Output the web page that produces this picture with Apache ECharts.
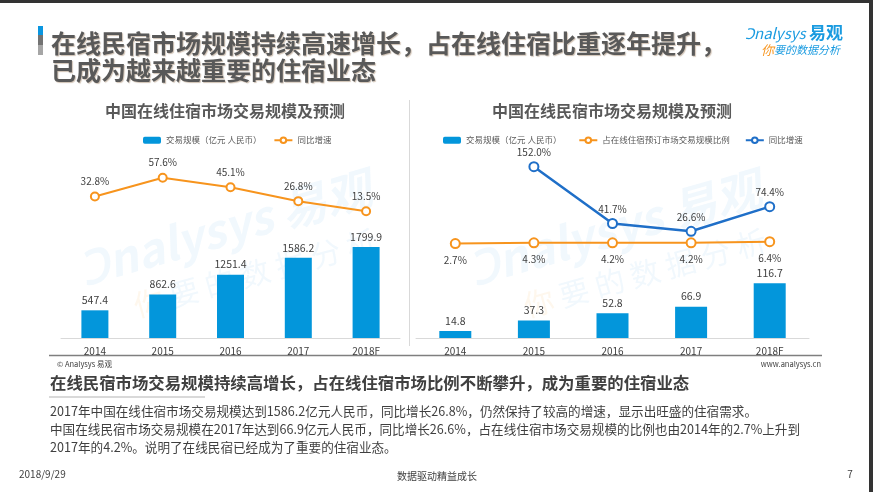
<!DOCTYPE html>
<html><head><meta charset="utf-8">
<script src="https://cdn.jsdelivr.net/npm/echarts@6/dist/echarts.min.js"></script>
<style>html,body{margin:0;padding:0;background:#fff}#c{width:873px;height:492px}</style>
</head><body><div id="c"></div>
<script>
const years = ['2014','2015','2016','2017','2018F'];
const hotelScale = [547.4, 862.6, 1251.4, 1586.2, 1799.9];
const hotelGrowth = [32.8, 57.6, 45.1, 26.8, 13.5];
const homestayScale = [14.8, 37.3, 52.8, 66.9, 116.7];
const homestayShare = [2.7, 4.3, 4.2, 4.2, 6.4];
const homestayGrowth = [null, 152.0, 41.7, 26.6, 74.4];

const FONT = '"Noto Sans CJK SC","Microsoft YaHei",sans-serif';
const BAR = '#0396db', ORANGE = '#f7941d', BLUE = '#1f6fc8';
const TXT = '#404040';
const pct = p => p.value == null ? '' : Number(p.value).toFixed(1) + '%';

function txt(x, y, text, font, fill, align, extra) {
  return {type:'text', x:x, y:y, silent:true,
    style:Object.assign({text:text, font:font, fill:fill, textAlign:align||'left', textVerticalAlign:'middle'}, extra||{})};
}
function wm(cx, cy) {
  return [
    {type:'text', x:cx, y:cy, rotation:0.28, silent:true, z:-1,
     style:{text:'Ↄnalysys 易观', font:'italic bold 46px '+FONT, fill:'rgba(20,140,215,0.06)', textAlign:'center', textVerticalAlign:'middle'}},
    {type:'text', x:cx+30, y:cy+45, rotation:0.27, silent:true, z:-1,
     style:{text:'{o|你} 要 的 数 据 分 析', font:'30px '+FONT, fill:'rgba(20,140,215,0.06)', textAlign:'center', textVerticalAlign:'middle',
       rich:{o:{fill:'rgba(247,148,29,0.08)', font:'30px '+FONT}}}}
  ];
}
const shadow = {textShadowColor:'rgba(120,80,40,0.35)', textShadowOffsetX:1, textShadowOffsetY:1, textShadowBlur:1};

const chart = echarts.init(document.getElementById('c'));
chart.setOption({
  backgroundColor:'#fff',
  animation:false,
  textStyle:{fontFamily:FONT},
  graphic:[
    {type:'rect', shape:{x:0,y:0,width:873,height:3}, style:{fill:'#333'}, silent:true},
    {type:'rect', shape:{x:869,y:0,width:4,height:492}, style:{fill:'#333'}, silent:true},
    {type:'rect', shape:{x:38,y:26,width:5,height:9}, style:{fill:'#0a96e0'}, silent:true},
    {type:'rect', shape:{x:38,y:35,width:5,height:10}, style:{fill:'#737373'}, silent:true},
    {type:'rect', shape:{x:38,y:45,width:5,height:10}, style:{fill:'#a6a6a6'}, silent:true},
    txt(51, 43, '在线民宿市场规模持续高速增长，占在线住宿比重逐年提升，', 'bold 25px '+FONT, '#595959', 'left', shadow),
    txt(51, 70, '已成为越来越重要的住宿业态', 'bold 25px '+FONT, '#595959', 'left', shadow),
    txt(745, 33, '{a|Ↄnalysys} {b|易观}', '15px '+FONT, '#1a9be0', 'left', {rich:{a:{font:'italic 15px '+FONT, fill:'#1a9be0'}, b:{font:'bold 17px '+FONT, fill:'#1a9be0'}}}),
    txt(761, 50, '{o|你}{b|要的数据分析}', '12px '+FONT, '#1a9be0', 'left', {rich:{o:{font:'italic 13px '+FONT, fill:ORANGE}, b:{font:'italic 11px '+FONT, fill:'#1a9be0'}}}),
    txt(225, 111, '中国在线住宿市场交易规模及预测', 'bold 16px '+FONT, '#595959', 'center'),
    txt(612, 111, '中国在线民宿市场交易规模及预测', 'bold 16px '+FONT, '#595959', 'center'),
    {type:'line', shape:{x1:409.5,y1:100,x2:409.5,y2:346}, style:{stroke:'#d9d9d9', lineWidth:1}, silent:true},
    {type:'line', shape:{x1:49,y1:355.5,x2:822,y2:355.5}, style:{stroke:'#7f7f7f', lineWidth:1.5}, silent:true},
    txt(57, 364, '© Analysys 易观', '7.5px '+FONT, TXT, 'left'),
    txt(821, 364, 'www.analysys.cn', '7.5px '+FONT, TXT, 'right'),
    txt(50, 383, '在线民宿市场交易规模持续高增长，占在线住宿市场比例不断攀升，成为重要的住宿业态', 'bold 16.4px '+FONT, '#404040', 'left'),
    {type:'line', shape:{x1:49,y1:397,x2:205,y2:397}, style:{stroke:'#d9d9d9', lineWidth:2}, silent:true},
    txt(50, 411, '2017年中国在线住宿市场交易规模达到1586.2亿元人民币，同比增长26.8%，仍然保持了较高的增速，显示出旺盛的住宿需求。', '12.6px '+FONT, TXT, 'left'),
    txt(50, 429, '中国在线民宿市场交易规模在2017年达到66.9亿元人民币，同比增长26.6%，占在线住宿市场交易规模的比例也由2014年的2.7%上升到', '12.6px '+FONT, TXT, 'left'),
    txt(50, 447, '2017年的4.2%。说明了在线民宿已经成为了重要的住宿业态。', '12.6px '+FONT, TXT, 'left'),
    txt(19, 474, '2018/9/29', '10px '+FONT, TXT, 'left'),
    txt(437, 476, '数据驱动精益成长', '10px '+FONT, TXT, 'center'),
    txt(850, 474, '7', '10px '+FONT, TXT, 'center')
  ].concat(wm(225, 228), wm(615, 228)),
  legend:[
    {left:143, top:136, padding:0, itemWidth:18, itemHeight:7, itemGap:12, textStyle:{fontSize:8.5, color:'#595959', fontFamily:FONT},
     data:['交易规模（亿元 人民币）','同比增速']},
    {left:443, top:136, padding:0, itemWidth:18, itemHeight:7, itemGap:15, textStyle:{fontSize:8.5, color:'#595959', fontFamily:FONT},
     data:['交易规模（亿元 人民币） ','占在线住宿预订市场交易规模比例','同比增速 ']}
  ],
  grid:[
    {left:61, width:339, top:160, height:178},
    {left:416, width:393, top:160, height:178}
  ],
  xAxis:[
    {type:'category', gridIndex:0, data:years, axisTick:{show:false}, axisLine:{lineStyle:{color:'#d9d9d9'}},
     axisLabel:{color:TXT, fontSize:10, margin:8}},
    {type:'category', gridIndex:1, data:years, axisTick:{show:false}, axisLine:{lineStyle:{color:'#d9d9d9'}},
     axisLabel:{color:TXT, fontSize:10, margin:8}}
  ],
  yAxis:[
    {type:'value', gridIndex:0, min:0, max:3520, show:false, splitLine:{show:false}},
    {type:'value', gridIndex:0, min:-152.8, max:80.8, show:false, splitLine:{show:false}},
    {type:'value', gridIndex:1, min:0, max:380, show:false, splitLine:{show:false}},
    {type:'value', gridIndex:1, min:-180.6, max:165, show:false, splitLine:{show:false}}
  ],
  series:[
    {name:'交易规模（亿元 人民币）', type:'bar', xAxisIndex:0, yAxisIndex:0, data:hotelScale, barWidth:27,
     itemStyle:{color:BAR}, label:{show:true, position:'top', distance:5, color:TXT, fontSize:10.5}},
    {name:'同比增速', type:'line', xAxisIndex:0, yAxisIndex:1, data:hotelGrowth, symbol:'emptyCircle', symbolSize:8,
     lineStyle:{color:ORANGE, width:2}, itemStyle:{color:ORANGE, borderWidth:1.5}, z:5,
     label:{show:true, position:'top', distance:5, color:TXT, fontSize:10, formatter:pct}},
    {name:'交易规模（亿元 人民币） ', type:'bar', xAxisIndex:1, yAxisIndex:2, data:homestayScale, barWidth:32,
     itemStyle:{color:BAR}, label:{show:true, position:'top', distance:5, color:TXT, fontSize:10.5}},
    {name:'占在线住宿预订市场交易规模比例', type:'line', xAxisIndex:1, yAxisIndex:3, data:homestayShare, symbol:'emptyCircle', symbolSize:9,
     lineStyle:{color:ORANGE, width:2}, itemStyle:{color:ORANGE, borderWidth:1.5}, z:5,
     label:{show:true, position:'bottom', distance:6, color:TXT, fontSize:10, formatter:pct}},
    {name:'同比增速 ', type:'line', xAxisIndex:1, yAxisIndex:3, data:homestayGrowth, symbol:'emptyCircle', symbolSize:9,
     lineStyle:{color:BLUE, width:2.5}, itemStyle:{color:BLUE, borderWidth:1.5}, z:6,
     label:{show:true, position:'top', distance:4, color:TXT, fontSize:10, formatter:pct}}
  ]
});
</script></body></html>
